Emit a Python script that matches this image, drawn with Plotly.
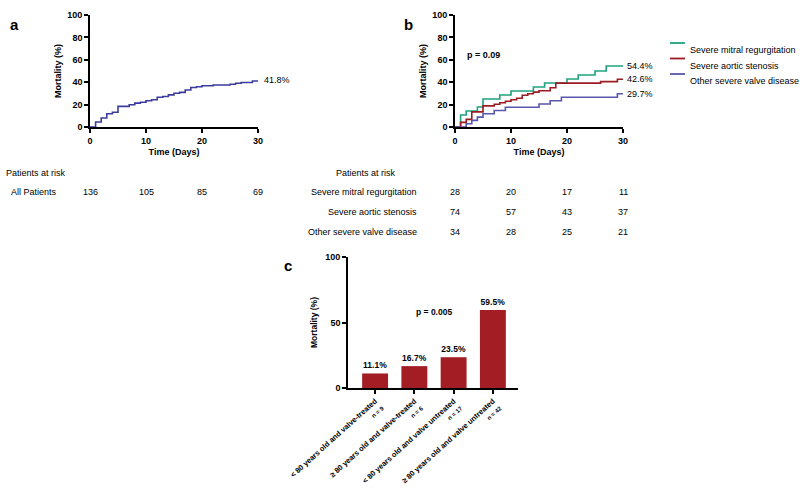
import plotly.graph_objects as go

# ---------------- data ----------------
days_all = [0, 1, 2, 3, 4, 5, 7, 8, 9, 10, 11, 12, 13, 14, 15, 16, 17, 18, 19, 20, 22, 25, 26, 27, 29, 30]
mort_all = [0, 4.4, 8.1, 11.8, 13.2, 18.4, 19.9, 21.3, 22.1, 23.5, 24.3, 26.5, 27.2, 28.7, 30.1, 30.9, 33.1, 35.3, 36.0, 36.8, 37.5, 38.2, 39.0, 39.7, 41.1, 41.8]

days_mr = [0, 1, 2, 4, 5, 8, 10, 14, 16, 20, 22, 25, 27, 30]
mort_mr = [0, 10.7, 14.3, 17.9, 25.0, 28.6, 32.1, 35.7, 39.3, 42.9, 46.4, 50.0, 54.4, 54.4]

days_as = [0, 1, 2, 3, 5, 7, 8, 9, 10, 11, 12, 13, 14, 15, 17, 18, 26, 29, 30]
mort_as = [0, 4.1, 6.8, 13.5, 18.9, 20.3, 21.6, 23.0, 24.3, 25.7, 28.4, 29.7, 31.1, 32.4, 35.1, 39.2, 40.5, 42.6, 42.6]

days_ot = [0, 2, 3, 4, 5, 7, 9, 15, 17, 19, 29, 30]
mort_ot = [0, 2.9, 5.9, 8.8, 11.8, 14.7, 17.6, 20.6, 23.5, 26.5, 29.7, 29.7]

series_names = ["Severe mitral regurgitation", "Severe aortic stenosis", "Other severe valve disease"]
series_end = ["54.4%", "42.6%", "29.7%"]

risk_days = [0, 10, 20, 30]
risk_all = [136, 105, 85, 69]
risk_mr = [28, 20, 17, 11]
risk_as = [74, 57, 43, 37]
risk_ot = [34, 28, 25, 21]

groups = ["< 80 years old and valve-treated", "\u2265 80 years old and valve-treated",
          "< 80 years old and valve untreated", "\u2265 80 years old and valve untreated"]
group_n = [9, 6, 17, 42]
group_mort = [11.1, 16.7, 23.5, 59.5]

# ---------------- style ----------------
FONT = "Liberation Sans, Arial, sans-serif"
C_ALL = "#3c3c9e"
C_MR = "#1fa37c"
C_AS = "#9c1c22"
C_OT = "#5a56ad"
C_BAR = "#a31e24"
W, H = 800, 492


def px_x(p):
    return p / W


def px_y(p):
    return 1 - p / H


fig = go.Figure()

fig.add_trace(go.Scatter(x=days_all, y=mort_all, mode="lines", line=dict(shape="hv", color=C_ALL, width=1.6),
                         xaxis="x", yaxis="y", cliponaxis=False, showlegend=False))
for d, m, c in [(days_mr, mort_mr, C_MR), (days_as, mort_as, C_AS), (days_ot, mort_ot, C_OT)]:
    fig.add_trace(go.Scatter(x=d, y=m, mode="lines", line=dict(shape="hv", color=c, width=1.6),
                             xaxis="x2", yaxis="y2", cliponaxis=False, showlegend=False))

fig.add_trace(go.Bar(x=list(range(len(groups))), y=group_mort, marker=dict(color=C_BAR, line=dict(width=0)),
                     width=0.66, text=[f"{v}%" for v in group_mort], textposition="outside",
                     textfont=dict(size=8.5, color="black", family=FONT, weight="bold"),
                     cliponaxis=False, xaxis="x3", yaxis="y3", showlegend=False))

axis_common = dict(showline=True, linecolor="black", linewidth=1.6, ticks="outside", ticklen=4,
                   tickwidth=1.6, tickcolor="black", showgrid=False, zeroline=False, automargin=False,
                   tickfont=dict(size=9, family=FONT, color="black", weight="bold"))

tick_title = dict(font=dict(size=9, family=FONT, color="black", weight="bold"))

fig.update_layout(
    template="none",
    width=W, height=H, margin=dict(l=0, r=0, t=0, b=0, pad=0),
    paper_bgcolor="white", plot_bgcolor="white",
    font=dict(family=FONT, size=9, color="black"),
    xaxis=dict(domain=[px_x(90), px_x(258)], anchor="y", range=[0, 30], tickvals=[0, 10, 20, 30],
               title=dict(text="Time (Days)", standoff=4, **tick_title), **axis_common),
    yaxis=dict(domain=[px_y(127), px_y(15)], anchor="x", range=[0, 100], tickvals=[0, 20, 40, 60, 80, 100],
               title=dict(text="Mortality (%)", standoff=4, **tick_title), **axis_common),
    xaxis2=dict(domain=[px_x(455), px_x(623)], anchor="y2", range=[0, 30], tickvals=[0, 10, 20, 30],
                title=dict(text="Time (Days)", standoff=4, **tick_title), **axis_common),
    yaxis2=dict(domain=[px_y(127), px_y(15)], anchor="x2", range=[0, 100], tickvals=[0, 20, 40, 60, 80, 100],
                title=dict(text="Mortality (%)", standoff=4, **tick_title), **axis_common),
    xaxis3=dict(domain=[px_x(348), px_x(518)], anchor="y3", range=[-0.69, 3.64],
                tickvals=list(range(len(groups))),
                ticktext=[f"{g}<br><span style='font-size:6px'>n = {n}</span>" for g, n in zip(groups, group_n)],
                tickangle=-42, **{**axis_common, "tickfont": dict(size=7.5, family=FONT, color="black", weight="bold")}),
    yaxis3=dict(domain=[px_y(388), px_y(257)], anchor="x3", range=[0, 100], tickvals=[0, 50, 100],
                title=dict(text="Mortality (%)", standoff=6, font=dict(size=8.5, family=FONT, color="black", weight="bold")),
                **axis_common),
)

ann = []
# panel letters
ann.append(dict(text="a", x=px_x(8), y=px_y(25), xref="paper", yref="paper", showarrow=False,
                font=dict(size=15, weight="bold"), xanchor="left", yanchor="middle"))
ann.append(dict(text="b", x=px_x(402), y=px_y(25), xref="paper", yref="paper", showarrow=False,
                font=dict(size=15, weight="bold"), xanchor="left", yanchor="middle"))
ann.append(dict(text="c", x=px_x(282), y=px_y(265), xref="paper", yref="paper", showarrow=False,
                font=dict(size=15, weight="bold"), xanchor="left", yanchor="middle"))

# end labels
ann.append(dict(text="41.8%", x=days_all[-1], y=mort_all[-1], xref="x", yref="y", showarrow=False,
                xanchor="left", xshift=4, font=dict(size=9)))
for d, m, t in [(days_mr, mort_mr, series_end[0]), (days_as, mort_as, series_end[1]), (days_ot, mort_ot, series_end[2])]:
    ann.append(dict(text=t, x=d[-1], y=m[-1], xref="x2", yref="y2", showarrow=False,
                    xanchor="left", xshift=2, font=dict(size=9)))

# p values
ann.append(dict(text="p = 0.09", x=5, y=64, xref="x2", yref="y2", showarrow=False,
                font=dict(size=9, weight="bold")))
ann.append(dict(text="p = 0.005", x=1.5, y=58, xref="x3", yref="y3", showarrow=False,
                font=dict(size=8.5, weight="bold")))

# risk table a
ann.append(dict(text="Patients at risk", x=px_x(4), y=px_y(173), xref="paper", yref="paper",
                showarrow=False, xanchor="left", font=dict(size=9)))
ann.append(dict(text="All Patients", x=px_x(34), y=px_y(192), xref="paper", yref="paper",
                showarrow=False, xanchor="center", font=dict(size=9)))
for d, n in zip(risk_days, risk_all):
    ann.append(dict(text=str(n), x=d, y=px_y(192), xref="x", yref="paper", showarrow=False, font=dict(size=9)))

# risk table b
ann.append(dict(text="Patients at risk", x=px_x(366), y=px_y(173), xref="paper", yref="paper",
                showarrow=False, xanchor="center", font=dict(size=9)))
for row_y, name, vals in [(192, series_names[0], risk_mr), (212, series_names[1], risk_as), (232, series_names[2], risk_ot)]:
    ann.append(dict(text=name, x=px_x(419), y=px_y(row_y), xref="paper", yref="paper",
                    showarrow=False, xanchor="right", font=dict(size=9)))
    for d, n in zip(risk_days, vals):
        ann.append(dict(text=str(n), x=d, y=px_y(row_y), xref="x2", yref="paper", showarrow=False,
                        font=dict(size=9)))

# legend (manual)
shapes = []
for i, (name, c) in enumerate(zip(series_names, [C_MR, C_AS, C_OT])):
    yy = 43 + i * 15.5
    shapes.append(dict(type="line", xref="paper", yref="paper", x0=px_x(670), x1=px_x(685),
                       y0=px_y(yy), y1=px_y(yy), line=dict(color=c, width=1.8)))
    ann.append(dict(text=name, x=px_x(688), y=px_y(yy), xref="paper", yref="paper", showarrow=False,
                    xanchor="left", font=dict(size=9)))

fig.update_layout(annotations=ann, shapes=shapes)

fig.write_html("out.html", config={"displayModeBar": False},
               post_script="document.body.style.margin='0';document.body.style.overflow='hidden';")
